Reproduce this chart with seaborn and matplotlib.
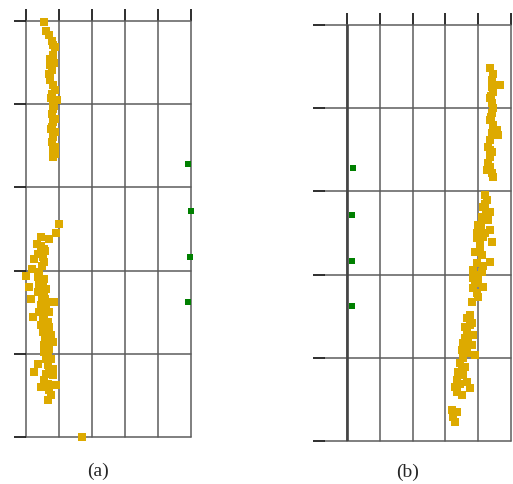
import matplotlib
matplotlib.use("Agg")
import matplotlib.pyplot as plt
import numpy as np
import pandas as pd
import seaborn as sns

# ---- data -------------------------------------------------------------
# Panel (a): gold samples
a_gold_x = [
    0.55, 0.61, 0.70, 0.79, 0.82, 0.88, 0.82, 0.73, 0.73, 0.79,
    0.73, 0.73, 0.82, 0.88, 0.79, 0.76, 0.82, 0.94, 0.82, 0.79,
    0.88, 0.82, 0.79, 0.88, 0.82, 0.79, 0.88, 0.82, 0.88, 0.82,
    1.00, 0.91, 0.70, 0.33, 0.55, 0.36, 0.52, 0.24, 0.55, 0.18,
    0.39, 0.00, 0.36, 0.55, 0.09, 0.39, 0.61, 0.36, 0.55, 0.15,
    0.70, 0.85, 0.45, 0.61, 0.39, 0.70, 0.21, 0.52, 0.67, 0.45,
    0.70, 0.52, 0.76, 0.61, 0.82, 0.55, 0.70, 0.55, 0.67, 0.76,
    0.36, 0.67, 0.82, 0.24, 0.61, 0.82, 0.55, 0.67, 0.45, 0.61,
    0.91, 0.70, 0.76, 0.67,
    0.45, 0.48, 0.45, 0.52, 0.48, 0.58, 0.55, 0.61, 0.58, 0.64,
    0.61, 0.70, 0.45, 0.58, 0.85, 0.70, 0.85, 0.76,
    1.70,
]
a_gold_y = [
    4.99, 4.88, 4.83, 4.76, 4.71, 4.69, 4.59, 4.54, 4.47, 4.41,
    4.33, 4.29, 4.23, 4.17, 4.12, 4.07, 4.04, 4.05, 3.94, 3.88,
    3.82, 3.79, 3.73, 3.67, 3.61, 3.55, 3.49, 3.45, 3.40, 3.37,
    2.56, 2.45, 2.38, 2.32, 2.26, 2.20, 2.16, 2.14, 2.10, 2.02,
    1.98, 1.94, 1.92, 1.90, 1.80, 1.84, 1.78, 1.74, 1.71, 1.66,
    1.62, 1.62, 1.59, 1.54, 1.50, 1.50, 1.44, 1.42, 1.38, 1.35,
    1.32, 1.26, 1.23, 1.18, 1.14, 1.11, 1.06, 1.02, 0.99, 0.94,
    0.88, 0.87, 0.82, 0.78, 0.76, 0.75, 0.69, 0.64, 0.60, 0.60,
    0.63, 0.56, 0.50, 0.44,
    2.30, 2.05, 1.88, 1.80, 1.68, 1.66, 1.46, 1.30, 1.20, 1.10,
    0.94, 0.80, 2.40, 2.24, 4.50, 4.36, 3.98, 3.70,
    0.00,
]
# Panel (a): green reference markers
a_green_x = [4.91, 5.00, 4.97, 4.91]
a_green_y = [3.28, 2.72, 2.16, 1.62]

# Panel (b): gold samples
b_gold_x = [
    4.36, 4.45, 4.42, 4.66, 4.42, 4.45, 4.36, 4.42, 4.45, 4.42,
    4.36, 4.45, 4.57, 4.42, 4.60, 4.36, 4.30, 4.42, 4.36, 4.30,
    4.36, 4.27, 4.42, 4.45, 4.21, 4.27, 4.15, 4.36, 4.12, 4.30,
    3.99, 4.36, 3.96, 4.15, 3.96, 4.42, 4.05, 3.90, 4.12, 4.36,
    3.96, 3.84, 4.12, 3.84, 3.99, 4.15, 3.84, 3.96, 3.99, 3.81,
    3.75, 3.66, 3.81, 3.60, 3.66, 3.84, 3.60, 3.54, 3.81, 3.51,
    3.66, 3.90, 3.54, 3.45, 3.60, 3.38, 3.54, 3.35, 3.66, 3.29,
    3.75, 3.35, 3.51, 3.20, 3.35, 3.23, 3.29,
    4.20, 4.25, 4.10, 4.20, 4.05, 4.15, 4.00, 3.90, 3.75, 3.70,
    3.60, 3.50, 3.45, 4.40, 4.40, 4.35,
]
b_gold_y = [
    4.48, 4.41, 4.34, 4.28, 4.25, 4.19, 4.12, 4.06, 4.00, 3.94,
    3.86, 3.80, 3.74, 3.70, 3.68, 3.62, 3.53, 3.47, 3.41, 3.34,
    3.29, 3.26, 3.22, 3.17, 2.96, 2.90, 2.81, 2.75, 2.69, 2.66,
    2.60, 2.54, 2.50, 2.45, 2.44, 2.39, 2.36, 2.27, 2.24, 2.15,
    2.14, 2.06, 2.03, 1.96, 1.91, 1.85, 1.84, 1.78, 1.73, 1.67,
    1.51, 1.48, 1.42, 1.37, 1.31, 1.27, 1.24, 1.18, 1.15, 1.09,
    1.06, 1.03, 1.00, 0.94, 0.89, 0.83, 0.79, 0.73, 0.71, 0.65,
    0.64, 0.59, 0.55, 0.37, 0.35, 0.29, 0.23,
    2.85, 2.75, 2.60, 2.50, 2.30, 2.10, 2.00, 1.90, 1.40, 1.20,
    1.10, 0.85, 0.68, 4.15, 3.90, 3.50,
]
# Panel (b): green reference markers
b_green_x = [0.18, 0.15, 0.15, 0.15]
b_green_y = [3.28, 2.72, 2.16, 1.62]

grid_ticks = [0, 1, 2, 3, 4, 5]
captions = ["(a)", "(b)"]

GOLD = "#DDAA00"
GREEN = "#008000"
GRID = "#5c5c5c"

# ---- figure -----------------------------------------------------------
sns.set_theme(style="white")
plt.rcParams["font.family"] = ["Liberation Serif", "DejaVu Serif"]

fig = plt.figure(figsize=(5.13, 4.84), dpi=100)
ax_a = fig.add_axes([26 / 513, 1 - 437 / 484, 165 / 513, 416 / 484])
ax_b = fig.add_axes([325 / 513, 1 - 441 / 484, 186 / 513, 416 / 484])

panels = [
    (ax_a, a_gold_x, a_gold_y, a_green_x, a_green_y, (0, 5), 0),
    (ax_b, b_gold_x, b_gold_y, b_green_x, b_green_y, (-0.67, 5), 2),
]

for ax, gx, gy, rx, ry, xlim, ytick_pad in panels:
    gold = pd.DataFrame({"x": gx, "y": gy})
    green = pd.DataFrame({"x": rx, "y": ry})
    sns.scatterplot(data=gold, x="x", y="y", ax=ax, marker="s", s=28,
                    color=GOLD, linewidth=0, clip_on=False, zorder=3)
    sns.scatterplot(data=green, x="x", y="y", ax=ax, marker="s", s=20,
                    color=GREEN, linewidth=0, clip_on=False, zorder=3)
    ax.set_xlim(*xlim)
    ax.set_ylim(0, 5)
    ax.set_xticks(grid_ticks)
    ax.set_yticks(grid_ticks)
    ax.set_xlabel("")
    ax.set_ylabel("")
    for s in ax.spines.values():
        s.set_visible(False)
    ax.set_axisbelow(True)
    ax.grid(True, color=GRID, linewidth=1.1, clip_on=False)
    ax.tick_params(axis="x", which="both", top=True, bottom=False,
                   labeltop=False, labelbottom=False, direction="out",
                   length=9, width=1.3, color="#1e1e1e")
    ax.tick_params(axis="y", which="both", left=True, right=False,
                   labelleft=False, labelright=False, direction="out",
                   length=9, width=1.3, color="#1e1e1e")
    ax.set_facecolor("white")

# darker zero line in the second panel
ax_b.axvline(0, color="#444444", linewidth=1.9, zorder=1)

fig.text(98 / 513, 1 - 471 / 484, captions[0], ha="center", va="center",
         fontsize=14)
fig.text(408 / 513, 1 - 472 / 484, captions[1], ha="center", va="center",
         fontsize=14)

fig.savefig("out.png", dpi=100, facecolor="white")
